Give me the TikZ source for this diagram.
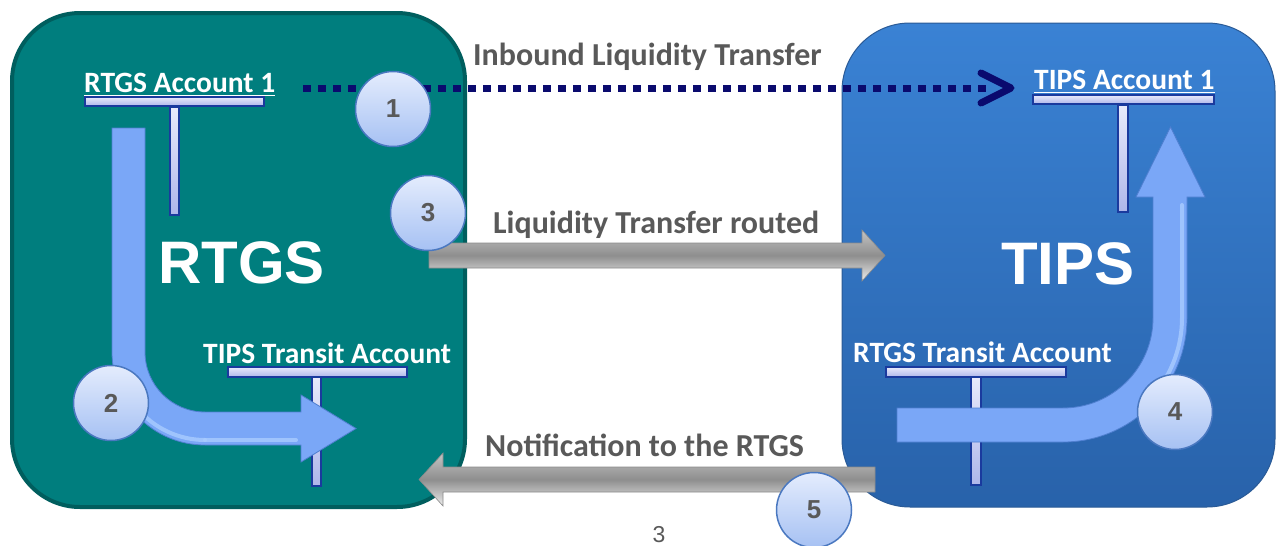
\documentclass[tikz,border=0pt]{standalone}
\usepackage{fontspec}
\setmainfont{Carlito}
\newfontfamily\arialfont{Liberation Sans}
\definecolor{tealfill}{HTML}{007E7E}
\definecolor{tealdark}{HTML}{005E5E}
\definecolor{tipstop}{HTML}{3A82D4}
\definecolor{tipsbot}{HTML}{2862AA}
\definecolor{tipsline}{HTML}{2A5A96}
\definecolor{navy}{HTML}{0A0A6E}
\definecolor{txtgray}{HTML}{595959}
\definecolor{barline}{HTML}{1A3A9E}
\definecolor{bartop}{HTML}{E8EAFB}
\definecolor{barbot}{HTML}{AEB6EA}
\definecolor{flowblue}{HTML}{7AA7F7}
\definecolor{flowline}{HTML}{4F7FD0}
\definecolor{flowlight}{HTML}{A9CCFF}
\definecolor{circtop}{HTML}{E4ECFD}
\definecolor{circbot}{HTML}{A6C1F3}
\definecolor{circline}{HTML}{4A78C0}
\definecolor{graytop}{HTML}{C4C4C4}
\definecolor{graymid}{HTML}{8E8E8E}
\definecolor{graybot}{HTML}{EEEEEE}
\definecolor{grayline}{HTML}{8A8A8A}
\begin{document}
\begin{tikzpicture}[x=1pt,y=-1pt,
  sysbox/.style={rectangle, rounded corners=68pt, inner sep=0pt},
  bar/.style={rectangle, inner sep=0pt, outer sep=0pt, draw=barline, line width=1.2pt, top color=bartop, bottom color=barbot},
  flow/.style={draw=flowline, line width=0.8pt, fill=flowblue},
  grayarrow/.style={draw=grayline, line width=0.6pt, top color=graytop, bottom color=graybot, middle color=graymid},
  stepcirc/.style={circle, minimum size=75pt, inner sep=0pt, draw=circline, line width=1.5pt, top color=circtop, bottom color=circbot, text=txtgray, font=\arialfont\bfseries\fontsize{26}{28}\selectfont},
  wlbl/.style={inner sep=0pt, anchor=base west, text=white, font=\bfseries\fontsize{29.5}{32}\selectfont},
  glbl/.style={inner sep=0pt, anchor=base west, text=txtgray, font=\bfseries\fontsize{32}{34}\selectfont},
  biglbl/.style={inner sep=0pt, anchor=base west, text=white, font=\arialfont\bfseries\fontsize{60}{62}\selectfont},
  uline/.style={white, line width=1.6pt},
  dots/.style={navy, line width=7pt, dash pattern=on 8pt off 7pt},
  glow/.style={flowlight, line width=4pt, line cap=round, opacity=0.8}
]
\useasboundingbox (0,0) rectangle (1278,546);

% system boxes
\node[sysbox, draw=tealdark, line width=4pt, fill=tealfill, minimum width=453pt, minimum height=494pt] (rtgsbox) at (238.5,260) {};
\node[sysbox, draw=tipsline, line width=1pt, top color=tipstop, bottom color=tipsbot, minimum width=433pt, minimum height=484pt] (tipsbox) at (1058.5,265) {};

% account T-bars
\node[bar, minimum width=179pt, minimum height=9pt] (bar1) at (174.5,101.5) {};
\node[bar, minimum width=9pt, minimum height=108pt] (stem1) at (174.5,161) {};
\node[bar, minimum width=179pt, minimum height=10pt] (bar2) at (317.5,372) {};
\node[bar, minimum width=9pt, minimum height=109pt] (stem2) at (316.5,431.5) {};
\node[bar, minimum width=181pt, minimum height=9pt] (bar3) at (1123.5,99.5) {};
\node[bar, minimum width=10pt, minimum height=107pt] (stem3) at (1123,158.5) {};
\node[bar, minimum width=180pt, minimum height=10pt] (bar4) at (976,372) {};
\node[bar, minimum width=10pt, minimum height=108pt] (stem4) at (976,431) {};

% curved flow arrow in RTGS (step 2)
\draw[flow] (112,128) -- (145,128) -- (145,352)
  arc[start angle=180, end angle=90, radius=60] -- (301,412) -- (301,395) -- (356,428.5)
  -- (301,462) -- (301,445) -- (205,445)
  arc[start angle=90, end angle=180, radius=93] -- cycle;
\draw[glow] (205,440) arc[start angle=90, end angle=140, radius=88];
\draw[glow] (205,440) -- (296,440);

% curved flow arrow in TIPS (step 4)
\draw[flow] (897,408) -- (1063,408)
  arc[start angle=90, end angle=0, radius=90] -- (1153,197) -- (1136,197) -- (1170.5,127)
  -- (1205,197) -- (1187,197) -- (1187,318)
  arc[start angle=0, end angle=90, radius=124] -- (897,442) -- cycle;
\draw[glow] (1182,205) -- (1182,318) arc[start angle=0, end angle=40, radius=119];

% gray arrows
\draw[grayarrow] (429,243) -- (862,243) -- (862,230) -- (885,255.5) -- (862,281) -- (862,268) -- (429,268) -- cycle;
\draw[grayarrow] (875,467) -- (443,467) -- (443,453) -- (419,479.5) -- (443,506) -- (443,492) -- (875,492) -- cycle;

% dotted inbound transfer
\coordinate (dstart) at (303,88);
\coordinate (dend) at (1011,88);
\draw[dots] (dstart) -- (990,88);
\draw[navy, line width=7pt, line cap=round, line join=round] (981,73) -- (dend) -- (981,103);

% step circles
\node[stepcirc] (c1) at (393,109) {1};
\node[stepcirc] (c2) at (111,403) {2};
\node[stepcirc] (c3) at (428,213) {3};
\node[stepcirc] (c4) at (1175,412) {4};
\node[stepcirc] (c5) at (814,510) {5};

% labels
\node[wlbl] (lacc1) at (84,92) {RTGS Account 1};
\draw[uline] ([yshift=-3.5pt]lacc1.base west) -- ([yshift=-3.5pt]lacc1.base east);
\node[wlbl] (ltacc1) at (1034,89) {TIPS Account 1};
\draw[uline] ([yshift=-3.5pt]ltacc1.base west) -- ([yshift=-3.5pt]ltacc1.base east);
\node[wlbl] (ltransit) at (203,363) {TIPS Transit Account};
\node[wlbl] (lrtransit) at (853,362) {RTGS Transit Account};

\node[glbl] (linbound) at (473,65) {Inbound Liquidity Transfer};
\node[glbl] (lrouted) at (493,233) {Liquidity Transfer routed};
\node[glbl] (lnotif) at (485,456) {Notification to the RTGS};

\node[biglbl] (lrtgs) at (158,283) {RTGS};
\node[biglbl] (ltips) at (1001,284) {TIPS};

\node[inner sep=0pt, anchor=base, text=txtgray, font=\arialfont\fontsize{23}{25}\selectfont] (pagenum) at (659,542) {3};
\end{tikzpicture}
\end{document}
